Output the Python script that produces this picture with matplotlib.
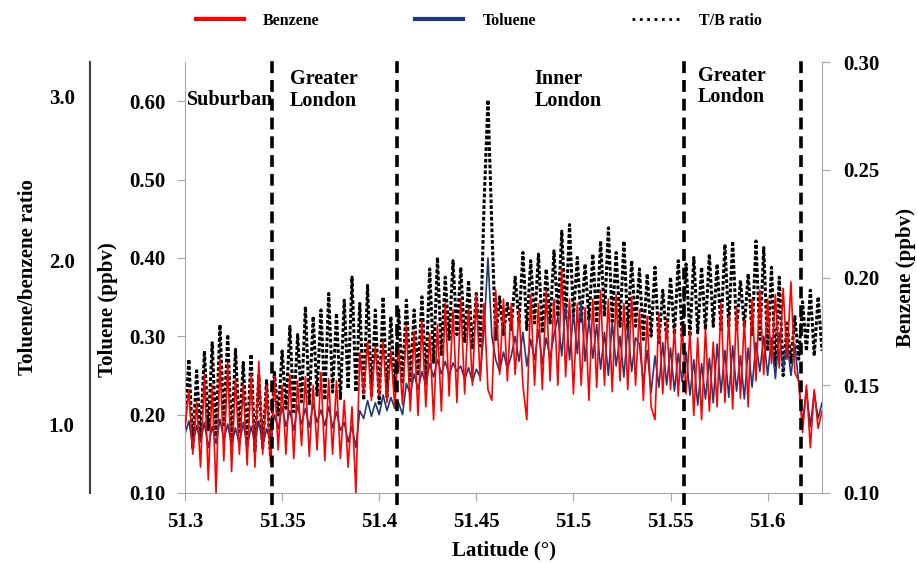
import numpy as np
import matplotlib
matplotlib.use('Agg')
import matplotlib.pyplot as plt
from matplotlib.lines import Line2D

plt.rcParams['font.family'] = 'Liberation Serif'
plt.rcParams['font.weight'] = 'bold'
plt.rcParams['axes.labelweight'] = 'bold'

# traces sampled every 0.002 deg of latitude from 51.300
lat_start = 51.300
lat_step = 0.002

tb_ratio = [
    1.02, 1.40, 0.86, 1.33, 0.92, 1.45, 0.97, 1.50, 0.93, 1.61,
    1.00, 1.55, 0.90, 1.46, 0.96, 1.38, 0.88, 1.43, 0.84, 1.30,
    0.86, 1.27, 0.81, 1.32, 1.06, 1.45, 1.10, 1.60, 1.08, 1.55,
    1.14, 1.72, 1.12, 1.66, 1.18, 1.70, 1.15, 1.80, 1.20, 1.68,
    1.16, 1.76, 1.22, 1.90, 1.20, 1.74, 1.15, 1.85, 1.18, 1.70,
    1.13, 1.78, 1.17, 1.66, 1.20, 1.70, 1.25, 1.76, 1.27, 1.70,
    1.30, 1.78, 1.28, 1.95, 1.38, 2.02, 1.42, 1.90, 1.52, 2.00,
    1.55, 1.96, 1.50, 1.88, 1.46, 1.80, 1.48, 2.35, 2.98, 2.20,
    1.52, 1.78, 1.55, 1.74, 1.58, 1.90, 1.62, 2.05, 1.58, 2.00,
    1.62, 2.04, 1.56, 1.95, 1.62, 2.06, 1.66, 2.18, 1.64, 2.22,
    1.66, 2.02, 1.62, 1.98, 1.64, 2.04, 1.62, 2.12, 1.66, 2.20,
    1.63, 2.05, 1.60, 2.12, 1.58, 2.00, 1.60, 1.95, 1.52, 1.92,
    1.54, 1.96, 1.50, 1.82, 1.52, 1.90, 1.55, 2.00, 1.53, 1.98,
    1.54, 2.02, 1.56, 1.96, 1.58, 2.04, 1.60, 1.98, 1.58, 2.10,
    1.60, 2.12, 1.58, 1.88, 1.60, 1.92, 1.55, 2.12, 1.52, 2.08,
    1.45, 1.96, 1.35, 1.90, 1.30, 1.62, 1.38, 1.66, 1.40, 1.75,
    1.45, 1.82, 1.42, 1.78, 1.45,
]

benzene = [
    0.130, 0.148, 0.118, 0.142, 0.112, 0.155, 0.106, 0.150, 0.100, 0.162,
    0.115, 0.160, 0.110, 0.153, 0.118, 0.150, 0.113, 0.155, 0.112, 0.161,
    0.118, 0.150, 0.114, 0.154, 0.120, 0.150, 0.118, 0.155, 0.116, 0.152,
    0.122, 0.154, 0.117, 0.150, 0.120, 0.156, 0.115, 0.153, 0.118, 0.152,
    0.116, 0.143, 0.112, 0.140, 0.100, 0.165, 0.146, 0.170, 0.143, 0.168,
    0.145, 0.170, 0.142, 0.166, 0.140, 0.168, 0.141, 0.178, 0.138, 0.175,
    0.136, 0.180, 0.140, 0.174, 0.134, 0.178, 0.138, 0.188, 0.145, 0.185,
    0.142, 0.190, 0.146, 0.186, 0.150, 0.192, 0.152, 0.188, 0.148, 0.143,
    0.194, 0.155, 0.190, 0.152, 0.188, 0.155, 0.185, 0.150, 0.134, 0.192,
    0.150, 0.188, 0.148, 0.194, 0.152, 0.190, 0.150, 0.204, 0.154, 0.190,
    0.146, 0.188, 0.150, 0.186, 0.143, 0.190, 0.149, 0.194, 0.150, 0.190,
    0.147, 0.192, 0.152, 0.188, 0.148, 0.191, 0.150, 0.185, 0.143, 0.182,
    0.140, 0.134, 0.183, 0.146, 0.180, 0.148, 0.176, 0.145, 0.178, 0.146,
    0.175, 0.136, 0.172, 0.134, 0.176, 0.138, 0.170, 0.140, 0.188, 0.142,
    0.182, 0.139, 0.186, 0.144, 0.180, 0.140, 0.190, 0.152, 0.194, 0.155,
    0.190, 0.160, 0.192, 0.158, 0.195, 0.162, 0.198, 0.156, 0.152, 0.128,
    0.150, 0.121, 0.148, 0.130, 0.138,
]

toluene = [
    0.175, 0.192, 0.160, 0.186, 0.165, 0.190, 0.158, 0.185, 0.163, 0.194,
    0.168, 0.188, 0.160, 0.183, 0.162, 0.190, 0.158, 0.185, 0.164, 0.192,
    0.160, 0.182, 0.166, 0.200, 0.182, 0.210, 0.185, 0.205, 0.180, 0.212,
    0.188, 0.208, 0.184, 0.214, 0.190, 0.206, 0.186, 0.210, 0.183, 0.204,
    0.180, 0.190, 0.165, 0.185, 0.158, 0.205, 0.195, 0.218, 0.198, 0.215,
    0.200, 0.225, 0.205, 0.222, 0.208, 0.215, 0.200, 0.240, 0.226, 0.252,
    0.232, 0.255, 0.238, 0.265, 0.248, 0.270, 0.252, 0.268, 0.250, 0.266,
    0.255, 0.262, 0.245, 0.260, 0.242, 0.258, 0.248, 0.310, 0.400, 0.300,
    0.270, 0.255, 0.280, 0.258, 0.275, 0.300, 0.268, 0.305, 0.262, 0.296,
    0.270, 0.308, 0.265, 0.298, 0.272, 0.302, 0.325, 0.275, 0.340, 0.270,
    0.330, 0.278, 0.345, 0.268, 0.322, 0.272, 0.315, 0.258, 0.305, 0.250,
    0.318, 0.262, 0.300, 0.248, 0.312, 0.255, 0.298, 0.290, 0.240, 0.282,
    0.228, 0.275, 0.235, 0.292, 0.238, 0.285, 0.230, 0.278, 0.242, 0.280,
    0.225, 0.270, 0.212, 0.265, 0.220, 0.272, 0.215, 0.290, 0.228, 0.282,
    0.222, 0.288, 0.230, 0.275, 0.220, 0.285, 0.235, 0.292, 0.255, 0.300,
    0.250, 0.298, 0.246, 0.305, 0.258, 0.296, 0.250, 0.290, 0.240, 0.190,
    0.232, 0.185, 0.228, 0.195, 0.215,
]

latitude = lat_start + lat_step * np.arange(len(benzene))

# zone boundaries (dashed lines) and zone names
zone_bounds = [51.345, 51.409, 51.557, 51.617]
zone_names = ['Suburban', 'Greater\nLondon', 'Inner\nLondon', 'Greater\nLondon']
zone_text_x = [51.301, 51.354, 51.480, 51.564]
zone_text_y = [0.912, 0.935, 0.935, 0.943]

x_ticks = [51.3, 51.35, 51.4, 51.45, 51.5, 51.55, 51.6]
x_ticklabels = ['51.3', '51.35', '51.4', '51.45', '51.5', '51.55', '51.6']
tol_ticks = [0.10, 0.20, 0.30, 0.40, 0.50, 0.60]
benz_ticks = [0.10, 0.15, 0.20, 0.25, 0.30]
ratio_ticks = [1.0, 2.0, 3.0]

RED = '#ff0000'
BLUE = '#1f3a78'
GREY = '#a6a6a6'
FS = 15

fig = plt.figure(figsize=(9.17, 5.63), dpi=100)
host = fig.add_axes([185 / 917, 1 - 493 / 563, 637 / 917, 431 / 563])
ax_ratio = host.twinx()
ax_benz = host.twinx()

# black under blue under red
ax_ratio.set_zorder(1)
host.set_zorder(2)
ax_benz.set_zorder(3)
host.patch.set_visible(False)
ax_benz.patch.set_visible(False)

ax_ratio.plot(latitude, tb_ratio, color='black', ls=(0, (1.2, 0.7)), lw=2.2)
host.plot(latitude, toluene, color=BLUE, lw=1.2)
ax_benz.plot(latitude, benzene, color=RED, lw=1.2)

host.set_xlim(51.3, 51.628)
host.set_ylim(0.10, 0.65)
ax_benz.set_ylim(0.10, 0.30)
ax_ratio.set_ylim(0.585, 3.21)

# host (toluene) axis
for s in ['top', 'right']:
    host.spines[s].set_visible(False)
host.spines['left'].set_color(GREY)
host.spines['bottom'].set_color(GREY)
host.set_xticks(x_ticks)
host.set_xticklabels(x_ticklabels)
host.set_yticks(tol_ticks)
host.set_yticklabels(['%.2f' % t for t in tol_ticks])
host.tick_params(axis='both', colors=GREY, labelcolor='black', length=6,
                 direction='out', labelsize=FS, pad=8)
host.set_ylabel('Toluene (ppbv)', fontsize=FS)
host.yaxis.set_label_coords(-0.105, 0.425)
host.set_xlabel('Latitude (°)', fontsize=FS, labelpad=6)

# benzene axis on the right
for s in ['top', 'bottom', 'left']:
    ax_benz.spines[s].set_visible(False)
ax_benz.spines['right'].set_color(GREY)
ax_benz.set_yticks(benz_ticks)
ax_benz.set_yticklabels(['%.2f' % t for t in benz_ticks])
ax_benz.tick_params(axis='y', colors=GREY, labelcolor='black', length=6,
                    direction='out', labelsize=FS, pad=9)
ax_benz.set_ylabel('Benzene (ppbv)', fontsize=FS, labelpad=12)

# ratio axis, far left, no tick marks
for s in ['top', 'bottom', 'right']:
    ax_ratio.spines[s].set_visible(False)
ax_ratio.spines['left'].set_visible(True)
ax_ratio.spines['left'].set_position(('axes', -95 / 637))
ax_ratio.spines['left'].set_color('#404040')
ax_ratio.spines['left'].set_linewidth(1.5)
ax_ratio.yaxis.set_ticks_position('left')
ax_ratio.yaxis.set_label_position('left')
ax_ratio.set_yticks(ratio_ticks)
ax_ratio.set_yticklabels(['%.1f' % t for t in ratio_ticks])
ax_ratio.tick_params(axis='y', length=0, labelsize=FS, pad=11)
ax_ratio.set_ylabel('Toluene/benzene ratio', fontsize=FS, labelpad=8)

# zone separators and names
for xb in zone_bounds:
    ax_benz.axvline(xb, ymin=-0.028, ymax=1.012, color='black', lw=2.6,
                    ls=(0, (3.3, 1.9)), clip_on=False)
for name, tx, ty in zip(zone_names, zone_text_x, zone_text_y):
    ax_benz.text(tx, ty, name, transform=ax_benz.get_xaxis_transform(),
                 fontsize=14.5, ha='left', va='center', linespacing=1.1)

handles = [Line2D([], [], color=RED, lw=3),
           Line2D([], [], color=BLUE, lw=3),
           Line2D([], [], color='black', lw=2, ls=':')]
fig.legend(handles, ['Benzene', 'Toluene', 'T/B ratio'], loc='center',
           bbox_to_anchor=(0.522, 0.963), ncol=3, frameon=False, fontsize=11.5,
           handlelength=3, columnspacing=6, handletextpad=1.2)

fig.savefig('out.png', dpi=100)
